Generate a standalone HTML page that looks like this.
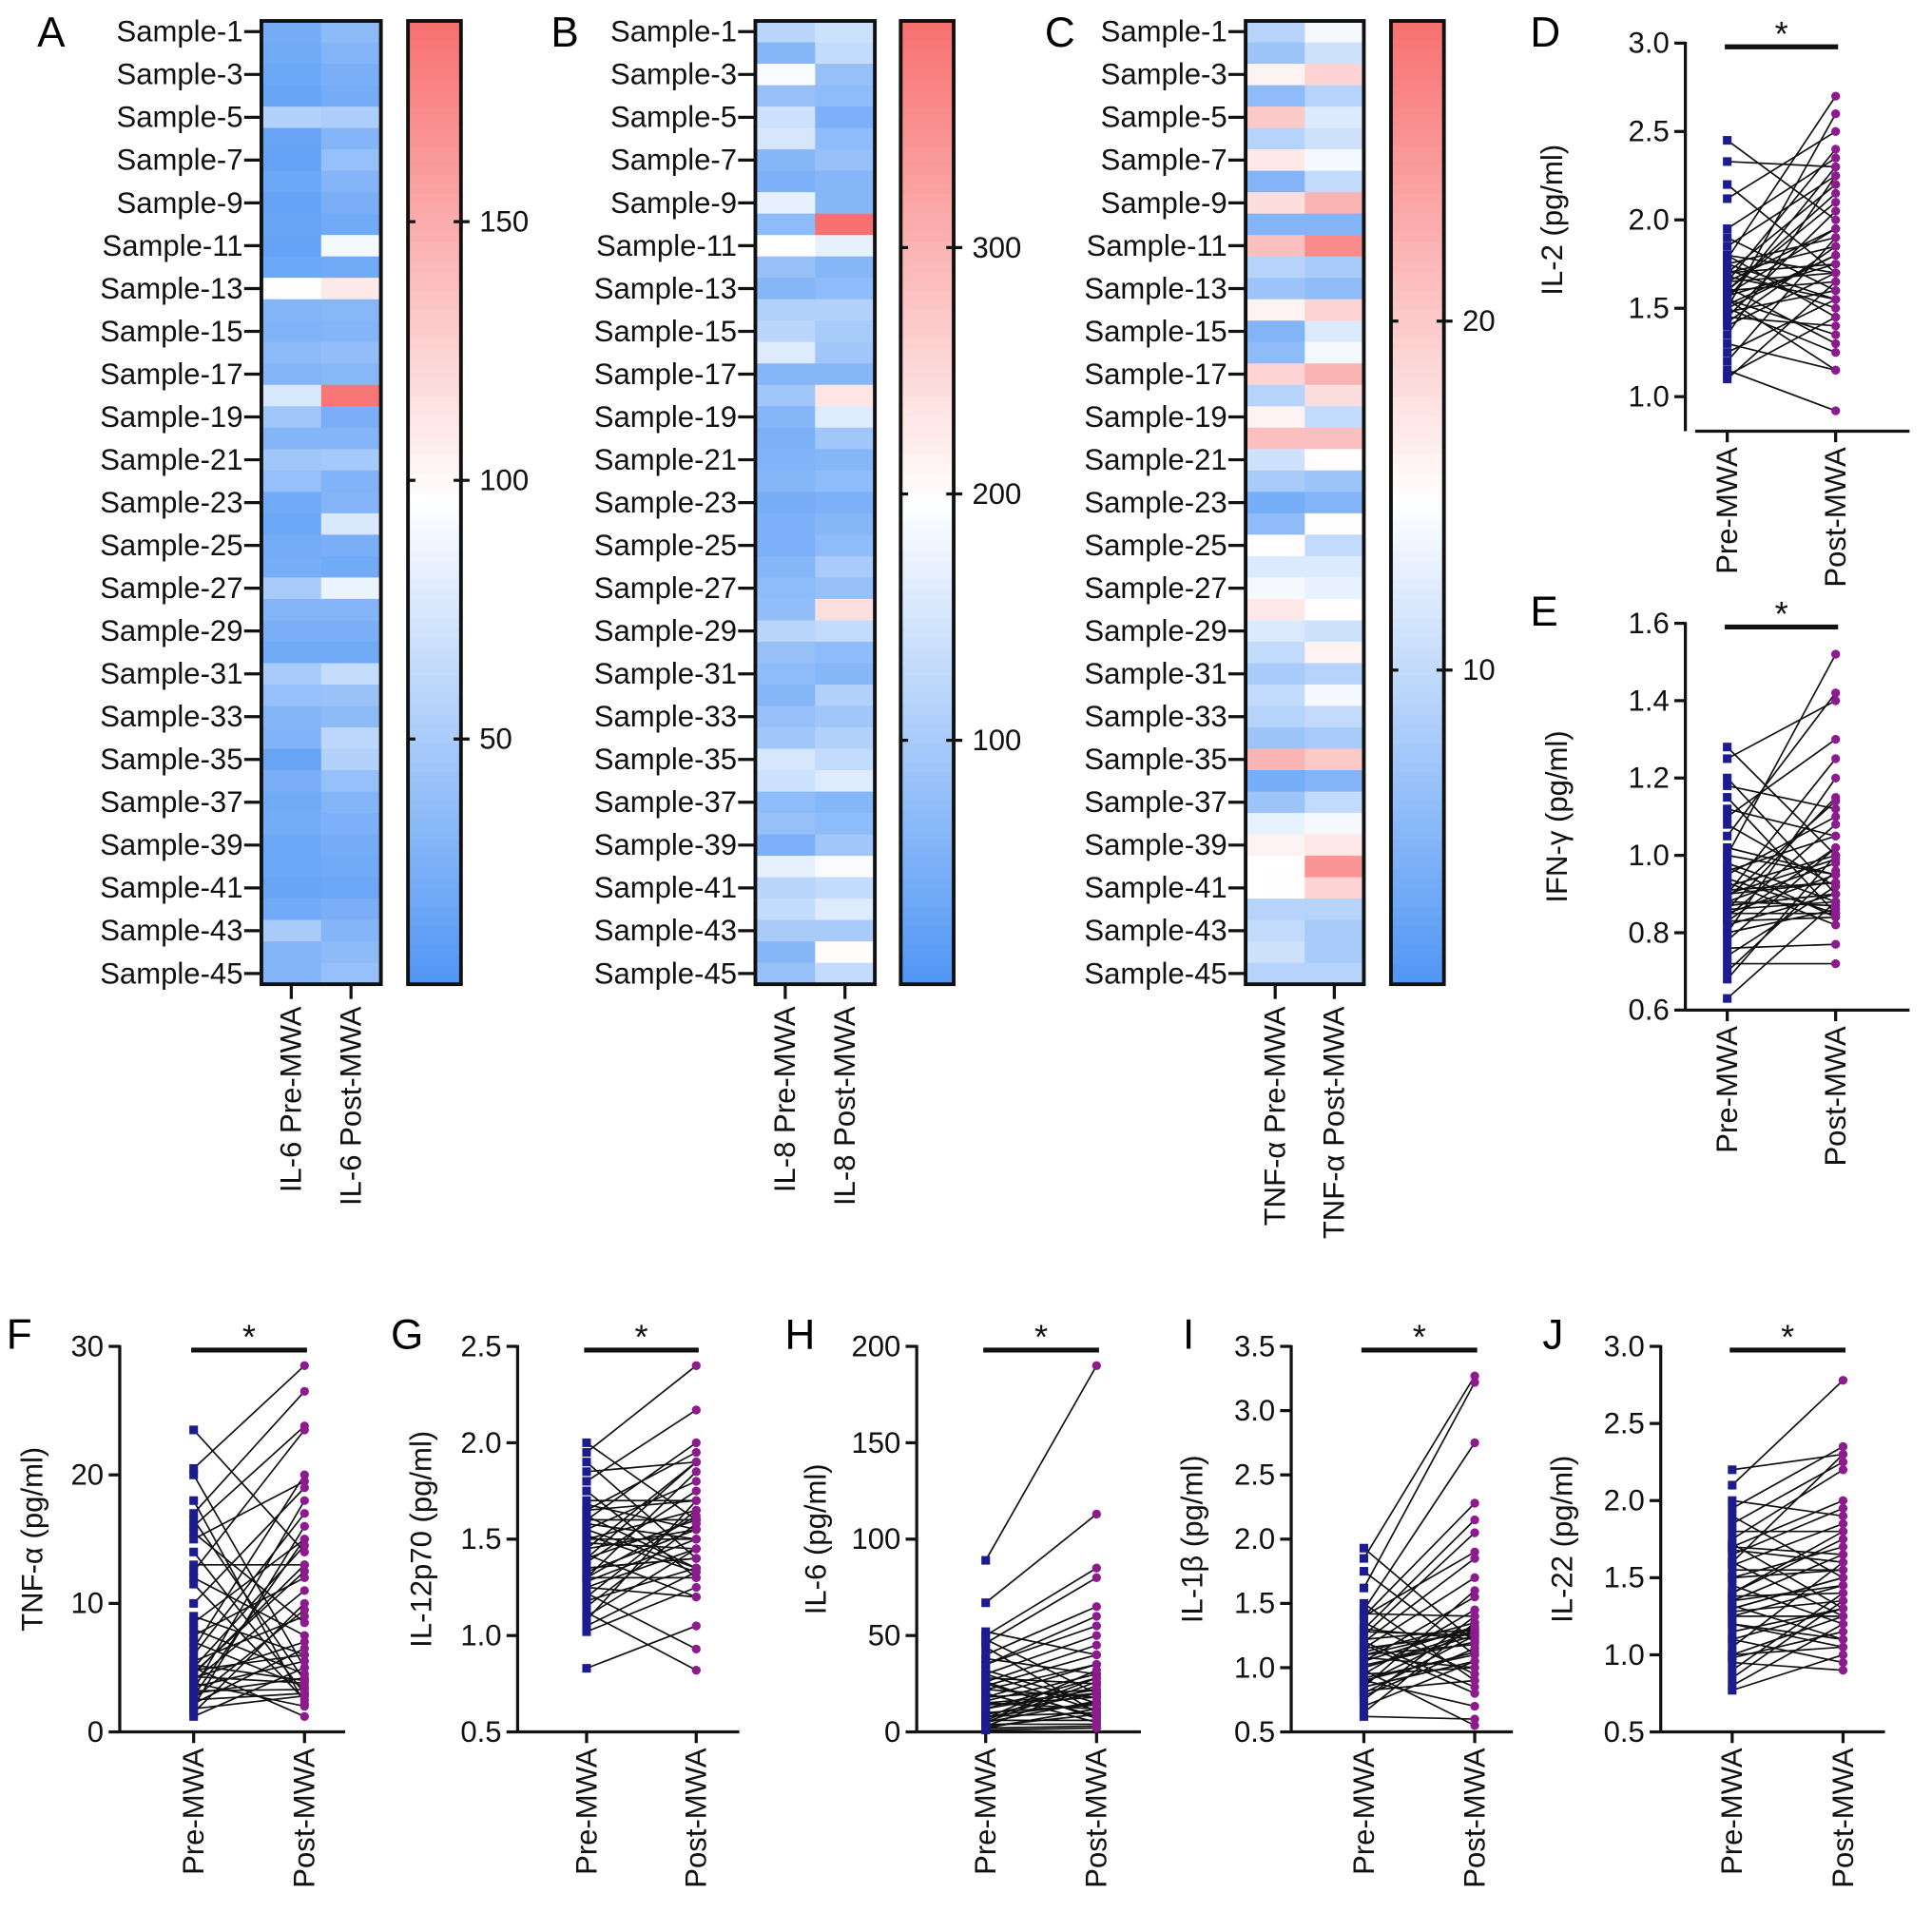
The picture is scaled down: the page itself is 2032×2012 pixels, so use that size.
<!DOCTYPE html>
<html><head><meta charset="utf-8"><style>
html,body{margin:0;padding:0;background:#fff}
svg{display:block;font-family:"Liberation Sans",Arial,sans-serif}
</style></head><body>
<svg id="fig" width="2032" height="2012" viewBox="0 0 1568 1553" xmlns="http://www.w3.org/2000/svg"></svg>
<script>
// ---- Heatmap data (45 samples each) ----
const sampleLabels = Array.from({length:45},(_,i)=>'Sample-'+(i+1));
const il6Pre  = [22,20,18,16,55,15,14,18,14,16,14,18,95,30,28,35,30,75,45,30,45,40,20,18,22,24,50,30,25,20,50,40,30,28,15,25,20,22,18,18,16,20,50,30,30];
const il6Post = [35,30,25,22,52,30,40,30,25,20,90,20,110,32,30,38,32,185,25,30,48,28,30,75,25,20,85,30,25,20,65,42,35,60,55,40,30,26,22,20,18,25,30,35,40];
const il8Pre  = [120,60,190,80,140,150,60,50,170,70,195,80,60,110,120,160,60,90,60,50,55,60,45,50,50,60,70,75,120,80,70,60,80,90,150,140,70,80,50,170,120,130,100,60,80];
const il8Post = [140,130,80,70,50,70,80,60,60,390,170,60,70,110,100,90,60,230,160,90,60,70,50,60,70,100,80,240,130,70,60,110,90,110,130,160,60,70,90,190,130,160,100,200,130];
const tnfPre  = [9,7,16,6,20,9,17,5,18,5,21,9,7,16,5,6,19,9,16,21,11,8,4,6,15,12,14,17,12,10,8,10,9,7,22,4,7,13,16,15,15,9,10,11,9];
const tnfPost = [14,11,19,9,12,11,14,10,22,5,26,8,6,19,12,14,22,18,10,21,15,7,5,15,10,12,13,15,11,16,9,14,10,8,20,5,10,14,17,25,19,9,8,8,9];
// ---- Paired data ----
const il2Pre  = [2.45,2.33,2.2,2.12,1.95,1.9,1.85,1.8,1.78,1.75,1.72,1.7,1.7,1.68,1.65,1.65,1.62,1.6,1.6,1.58,1.57,1.55,1.55,1.52,1.5,1.5,1.48,1.45,1.45,1.42,1.4,1.35,1.3,1.25,1.2,1.15,1.12,1.1,1.7,1.6,1.55,1.65,1.75,1.5,1.8];
const il2Post = [2.0,2.3,1.7,2.5,2.35,1.6,2.25,1.45,2.7,1.9,1.5,2.2,1.85,1.55,2.4,1.7,1.3,2.15,1.65,1.95,1.75,2.3,1.15,1.8,2.6,1.25,1.6,2.05,1.4,1.85,1.7,2.25,1.15,1.55,1.9,0.92,1.45,1.65,1.75,2.1,1.35,1.95,1.55,1.8,1.7];
const ifnPre  = [1.28,1.25,1.2,1.18,1.15,1.12,1.1,1.08,1.05,1.02,1.0,0.98,0.95,0.93,0.92,0.9,0.9,0.88,0.88,0.87,0.86,0.85,0.85,0.84,0.83,0.82,0.8,0.8,0.78,0.76,0.74,0.72,0.7,0.68,0.63,0.96,0.94,0.91,0.89,0.87,1.0,0.97,0.83,0.86,0.9];
const ifnPost = [1.0,1.4,0.9,1.12,0.85,1.05,1.3,0.92,1.42,0.95,1.52,0.88,1.1,0.82,1.0,0.93,1.25,0.87,0.98,0.9,1.15,0.85,0.95,1.08,0.84,0.9,1.2,0.86,1.02,0.77,0.92,0.72,0.96,1.0,0.88,1.05,0.85,0.93,1.14,0.9,0.95,0.84,1.02,0.88,0.99];
const tnfaPre  = [23.5,20.5,20,17,16.5,16,15,14,13,12.5,12,11.5,10,8.5,8,7.5,7,6,5.5,5,5,4.8,4.5,4.3,4,3.8,3.5,3.3,3,2.8,2.5,2.2,2,1.8,1.5,1.2,4.2,4.6,5.2,6.5,3.2,2.6,15.5,18,9];
const tnfaPost = [14,28.5,5,26.5,4,23.8,19.5,3,13,23.5,7.5,2.5,19,15,4.5,12,3.5,17,9,1.2,14.5,6,13,3.8,11,2,5.5,18,4.2,15,3,6.5,16,2.8,10,5,7,12.5,4,20,3.3,9.5,8.5,2.2,6];
const il12Pre  = [2.0,1.95,1.9,1.85,1.8,1.75,1.7,1.68,1.65,1.62,1.6,1.58,1.55,1.52,1.5,1.48,1.45,1.42,1.4,1.38,1.35,1.33,1.3,1.3,1.28,1.25,1.22,1.2,1.18,1.15,1.12,1.1,1.08,1.05,1.02,0.83,1.6,1.5,1.4,1.35,1.45,1.55,1.65,1.3,1.25];
const il12Post = [1.6,2.4,1.4,1.9,2.17,1.3,1.7,1.55,1.95,1.35,2.0,1.5,1.8,1.33,1.65,1.45,1.9,1.2,1.6,1.75,1.4,1.55,1.3,1.85,1.5,1.2,0.93,1.65,1.35,1.58,0.82,1.45,1.7,1.33,1.25,1.05,1.6,1.5,1.9,1.4,1.55,1.35,1.7,1.62,1.45];
const il6pPre  = [89,67,52,50,48,46,44,40,38,35,32,30,28,26,25,24,22,20,18,16,15,14,12,10,9,8,7,6,5,5,4,3,3,2,2,1,18,22,26,12,8,6,30,35,15];
const il6pPost = [190,113,40,85,20,80,10,65,30,60,15,50,25,45,8,40,35,5,22,30,12,18,28,14,20,10,32,6,16,26,4,24,9,3,12,2,35,18,7,22,15,28,11,55,20];
const il1bPre  = [1.93,1.85,1.75,1.62,1.5,1.45,1.42,1.4,1.35,1.3,1.28,1.25,1.22,1.2,1.18,1.15,1.12,1.1,1.08,1.05,1.02,1.0,0.98,0.95,0.92,0.9,0.88,0.85,0.82,0.8,0.78,0.75,0.7,0.65,0.62,1.3,1.1,0.95,1.0,1.2,1.05,0.9,1.4,1.15,0.85];
const il1bPost = [1.2,3.27,1.1,3.22,0.9,2.75,1.4,2.28,0.95,2.15,1.25,2.05,1.3,1.85,0.8,1.7,1.35,1.3,1.0,1.55,1.2,1.25,0.55,1.45,1.1,0.7,1.3,1.6,0.9,1.25,1.15,1.4,1.05,1.35,0.6,1.22,1.18,1.0,1.28,0.85,1.32,1.12,1.9,1.27,1.05];
const il22Pre  = [2.2,2.1,2.0,1.95,1.9,1.85,1.8,1.75,1.72,1.7,1.68,1.65,1.6,1.58,1.55,1.5,1.45,1.4,1.38,1.35,1.32,1.3,1.28,1.25,1.2,1.15,1.1,1.05,1.0,0.98,0.95,0.9,0.85,0.8,0.77,1.3,1.4,1.2,1.6,1.1,1.5,1.0,1.7,1.35,1.25];
const il22Post = [2.3,2.78,1.9,2.35,1.5,2.25,1.8,2.2,1.3,2.0,1.6,1.95,1.25,1.85,1.55,1.7,1.2,1.75,1.4,1.65,1.1,1.5,1.35,1.45,1.05,1.3,0.95,1.6,1.25,1.15,0.9,1.4,1.35,1.2,1.0,1.5,1.8,1.1,2.3,1.3,1.55,1.05,1.65,1.45,1.25];

const NS='http://www.w3.org/2000/svg';
const svg=document.getElementById('fig');
const FS=24;
function mk(tag,attrs,parent){const e=document.createElementNS(NS,tag);for(const k in attrs)e.setAttribute(k,attrs[k]);(parent||svg).appendChild(e);return e;}
function txt(s,attrs,parent){const e=mk('text',attrs,parent);e.textContent=s;return e;}
function lerp(a,b,t){return Math.round(a+(b-a)*t);}
function heatColor(v,min,max){let t=(v-min)/(max-min);t=Math.max(0,Math.min(1,t));
  const B=[80,150,245],W=[255,255,255],R=[248,112,112];
  if(t<0.5){const u=t/0.5;return `rgb(${lerp(B[0],W[0],u)},${lerp(B[1],W[1],u)},${lerp(B[2],W[2],u)})`;}
  const u=(t-0.5)/0.5;return `rgb(${lerp(W[0],R[0],u)},${lerp(W[1],R[1],u)},${lerp(W[2],R[2],u)})`;}

function panelLetter(s,x,y){const t=txt(s,{x:x,y:y,'font-size':34,fill:'#000'});
  
  }

function heatmap(cfg){
  const g=mk('g',{});
  
  
  const top=17,bot=799,n=45,rh=(bot-top)/n,cw=(cfg.x1-cfg.x0)/2;
  const yRow=i=>top+i*rh;
  [cfg.pre,cfg.post].forEach((arr,c)=>{
    arr.forEach((v,i)=>{
      const r=mk('rect',{x:cfg.x0+c*cw,y:yRow(i),width:cw+0.5,height:rh+0.5,fill:heatColor(v,cfg.min,cfg.max)},g);
      
      
    });
  });
  mk('rect',{x:cfg.x0,y:top,width:cfg.x1-cfg.x0,height:bot-top,fill:'none',stroke:'#111','stroke-width':3},g);
  sampleLabels.forEach((s,i)=>{ if(i%2) return;
    const yc=yRow(i)+rh/2;
    mk('line',{x1:cfg.x0-14,x2:cfg.x0,y1:yc,y2:yc,stroke:'#111','stroke-width':2.5},g);
    const t=txt(s,{x:cfg.x0-15,y:yc+8,'font-size':FS,'text-anchor':'end',fill:'#111'},g);
    
    
  });
  cfg.xlabels.forEach((s,c)=>{
    const xc=cfg.x0+c*cw+cw/2;
    mk('line',{x1:xc,x2:xc,y1:bot,y2:bot+12,stroke:'#111','stroke-width':2.5},g);
    const t=txt(s,{x:0,y:0,'font-size':FS,'text-anchor':'end',fill:'#111',transform:`translate(${xc+8},${bot+18}) rotate(-90)`},g);
    
    
  });
  const cb=mk('g',{},g);
  
  
  const steps=100;
  for(let k=0;k<steps;k++){
    const v=cfg.min+(cfg.max-cfg.min)*(1-(k+0.5)/steps);
    mk('rect',{x:cfg.cb,y:top+k*(bot-top)/steps,width:43,height:(bot-top)/steps+0.6,fill:heatColor(v,cfg.min,cfg.max)},cb);
  }
  mk('rect',{x:cfg.cb,y:top,width:43,height:bot-top,fill:'none',stroke:'#111','stroke-width':3},cb);
  const ys=v=>bot-(v-cfg.min)/(cfg.max-cfg.min)*(bot-top);
  cfg.ticks.forEach(tv=>{
    const y=ys(tv);
    mk('line',{x1:cfg.cb,x2:cfg.cb+6,y1:y,y2:y,stroke:'#111','stroke-width':2.5},cb);
    mk('line',{x1:cfg.cb+37,x2:cfg.cb+50,y1:y,y2:y,stroke:'#111','stroke-width':2.5},cb);
    const t=txt(String(tv),{x:cfg.cb+58,y:y+8,'font-size':FS,fill:'#111'},cb);
    
    
  });
}

function paired(cfg){
  const g=mk('g',{});
  
  
  const ys=v=>cfg.yb-(v-cfg.ymin)/(cfg.ymax-cfg.ymin)*(cfg.yb-cfg.yt);
  const xPre=cfg.ax+cfg.dx1, xPost=cfg.ax+cfg.dx2;
  mk('line',{x1:cfg.ax,x2:cfg.ax,y1:ys(cfg.ymax)-1,y2:cfg.yb+(cfg.gap||0),stroke:'#111','stroke-width':2.5},g);
  const xaY=cfg.yb+(cfg.gap||0);
  mk('line',{x1:cfg.ax+(cfg.gap?8:0),x2:cfg.ax+cfg.w,y1:xaY,y2:xaY,stroke:'#111','stroke-width':2.5},g);
  cfg.ticks.forEach(tv=>{
    const y=ys(tv);
    mk('line',{x1:cfg.ax-9,x2:cfg.ax,y1:y,y2:y,stroke:'#111','stroke-width':2.5},g);
    const t=txt(cfg.fmt(tv),{x:cfg.ax-13,y:y+8,'font-size':FS,'text-anchor':'end',fill:'#111'},g);
    
    
  });
  [[xPre,'Pre-MWA'],[xPost,'Post-MWA']].forEach(([x,s])=>{
    mk('line',{x1:x,x2:x,y1:xaY,y2:xaY+9,stroke:'#111','stroke-width':2.5},g);
    const t=txt(s,{x:0,y:0,'font-size':FS,'text-anchor':'end',fill:'#111',transform:`translate(${x+8},${xaY+13}) rotate(-90)`},g);
    
    
  });
  const yt=txt(cfg.title,{x:0,y:0,'font-size':FS,'text-anchor':'middle',fill:'#111',transform:`translate(${cfg.tx},${(cfg.yt+cfg.yb)/2}) rotate(-90)`},g);
  
  
  mk('line',{x1:xPre-2,x2:xPost+2,y1:cfg.yt+3,y2:cfg.yt+3,stroke:'#111','stroke-width':4},g);
  const st=txt('*',{x:(xPre+xPost)/2,y:cfg.yt+2,'font-size':28,'text-anchor':'middle',fill:'#111'},g);
  
  
  cfg.pre.forEach((v,i)=>{
    const l=mk('line',{x1:xPre,y1:ys(v),x2:xPost,y2:ys(cfg.post[i]),stroke:'#111','stroke-width':1.3},g);
    
    
  });
  cfg.pre.forEach(v=>{
    const r=mk('rect',{x:xPre-3.5,y:ys(v)-3.5,width:7,height:7,fill:'#1c1c8f'},g);
    
    
  });
  cfg.post.forEach(v=>{
    const c=mk('circle',{cx:xPost,cy:ys(v),r:3.6,fill:'#8e1a90'},g);
    
    
  });
}

panelLetter('A',30,38);panelLetter('B',447,38);panelLetter('C',848,38);panelLetter('D',1242,38);
panelLetter('E',1242,508);panelLetter('F',5,1095);panelLetter('G',317,1095);panelLetter('H',637,1095);
panelLetter('I',960,1095);panelLetter('J',1252,1095);

heatmap({name:'heatmap-il6',x0:212,x1:309,cb:331,min:2.6,max:188.8,ticks:[50,100,150],pre:il6Pre,post:il6Post,xlabels:['IL-6 Pre-MWA','IL-6 Post-MWA']});
heatmap({name:'heatmap-il8',x0:613,x1:710,cb:731,min:1,max:392,ticks:[100,200,300],pre:il8Pre,post:il8Post,xlabels:['IL-8 Pre-MWA','IL-8 Post-MWA']});
heatmap({name:'heatmap-tnfa',x0:1011,x1:1107,cb:1129,min:1,max:28.6,ticks:[10,20],pre:tnfPre,post:tnfPost,xlabels:['TNF-α Pre-MWA','TNF-α Post-MWA']});

const f1=v=>v.toFixed(1), f0=v=>String(v);
paired({name:'chart-il2',ax:1368,w:182,dx1:34,dx2:122,yt:35,yb:322,gap:28,ymin:1.0,ymax:3.0,ticks:[1.0,1.5,2.0,2.5,3.0],fmt:f1,title:'IL-2 (pg/ml)',tx:1268,pre:il2Pre,post:il2Post});
paired({name:'chart-ifng',ax:1368,w:182,dx1:34,dx2:122,yt:506,yb:820,ymin:0.6,ymax:1.6,ticks:[0.6,0.8,1.0,1.2,1.4,1.6],fmt:f1,title:'IFN-γ (pg/ml)',tx:1272,pre:ifnPre,post:ifnPost});
paired({name:'chart-tnfa',ax:97,w:183,dx1:60,dx2:150,yt:1093,yb:1406,ymin:0,ymax:30,ticks:[0,10,20,30],fmt:f0,title:'TNF-α (pg/ml)',tx:34,pre:tnfaPre,post:tnfaPost});
paired({name:'chart-il12p70',ax:420,w:180,dx1:56,dx2:145,yt:1093,yb:1406,ymin:0.5,ymax:2.5,ticks:[0.5,1.0,1.5,2.0,2.5],fmt:f1,title:'IL-12p70 (pg/ml)',tx:350,pre:il12Pre,post:il12Post});
paired({name:'chart-il6',ax:744,w:182,dx1:56,dx2:146,yt:1093,yb:1406,ymin:0,ymax:200,ticks:[0,50,100,150,200],fmt:f0,title:'IL-6 (pg/ml)',tx:670,pre:il6pPre,post:il6pPost});
paired({name:'chart-il1b',ax:1048,w:180,dx1:59,dx2:149,yt:1093,yb:1406,ymin:0.5,ymax:3.5,ticks:[0.5,1.0,1.5,2.0,2.5,3.0,3.5],fmt:f1,title:'IL-1β (pg/ml)',tx:976,pre:il1bPre,post:il1bPost});
paired({name:'chart-il22',ax:1348,w:182,dx1:58,dx2:148,yt:1093,yb:1406,ymin:0.5,ymax:3.0,ticks:[0.5,1.0,1.5,2.0,2.5,3.0],fmt:f1,title:'IL-22 (pg/ml)',tx:1276,pre:il22Pre,post:il22Post});
</script>
</body></html>
